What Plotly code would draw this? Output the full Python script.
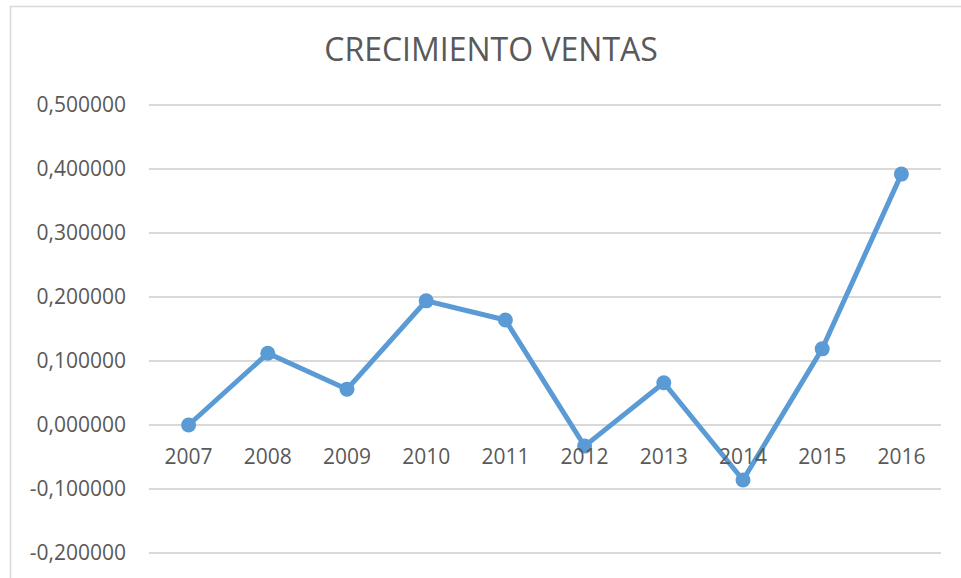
import plotly.graph_objects as go

years = ["2007", "2008", "2009", "2010", "2011", "2012", "2013", "2014", "2015", "2016"]
growth = [0.0, 0.112, 0.056, 0.194, 0.164, -0.033, 0.066, -0.086, 0.119, 0.392]
y_tickvals = [-0.2, -0.1, 0.0, 0.1, 0.2, 0.3, 0.4, 0.5]
y_ticktext = ["-0,200000", "-0,100000", "0,000000", "0,100000", "0,200000", "0,300000", "0,400000", "0,500000"]

W, H = 961, 578
pad = 0.0078125            # extra axis range so edge gridlines are drawn
px_per_unit = 640          # 64 px per 0.1
L, R = 149, 20
T = 105 - pad * px_per_unit
B = 25 - pad * px_per_unit
ymin, ymax = -0.2 - pad, 0.5 + pad
pw, ph = W - L - R, H - T - B

def px_to_paper_x(px):
    return (px - L) / pw

def py_to_paper_y(py):
    return (H - B - py) / ph

fig = go.Figure()
fig.add_trace(go.Scatter(
    x=years, y=growth, mode="lines+markers",
    line=dict(color="#5B9BD5", width=5),
    marker=dict(color="#5B9BD5", size=15),
    cliponaxis=False,
))

font_family = "Open Sans, Liberation Sans, sans-serif"
fig.update_layout(
    width=W, height=H,
    margin=dict(l=L, r=R, t=T, b=B),
    paper_bgcolor="white", plot_bgcolor="white",
    showlegend=False,
    title=dict(text="CRECIMIENTO VENTAS", x=491 / W, xanchor="center",
               y=1 - 50 / H, yanchor="middle",
               font=dict(family=font_family, size=32, color="#595959")),
    font=dict(family=font_family, color="#595959", size=21),
    xaxis=dict(type="category", range=[-0.5, len(years) - 0.5],
               anchor="free", position=(0 - ymin) / (ymax - ymin),
               showgrid=False, zeroline=False, showline=False, ticks="",
               ticklabelstandoff=17,
               tickfont=dict(size=21, color="#595959")),
    yaxis=dict(range=[ymin, ymax], tickvals=y_tickvals, ticktext=y_ticktext,
               showgrid=True, gridcolor="#D9D9D9", gridwidth=1.5,
               zeroline=False, showline=False, ticks="",
               ticklabelstandoff=22,
               tickfont=dict(size=21, color="#595959")),
)

# chart frame (Excel-style border, extends past the picture on right and bottom)
fig.add_shape(type="rect", xref="paper", yref="paper",
              x0=px_to_paper_x(10.5), x1=px_to_paper_x(975),
              y0=py_to_paper_y(590), y1=py_to_paper_y(6.5),
              line=dict(color="#D9D9D9", width=1.5), layer="below")

fig.write_html("out.html", config={"displayModeBar": False},
               post_script="document.body.style.margin='0';")
